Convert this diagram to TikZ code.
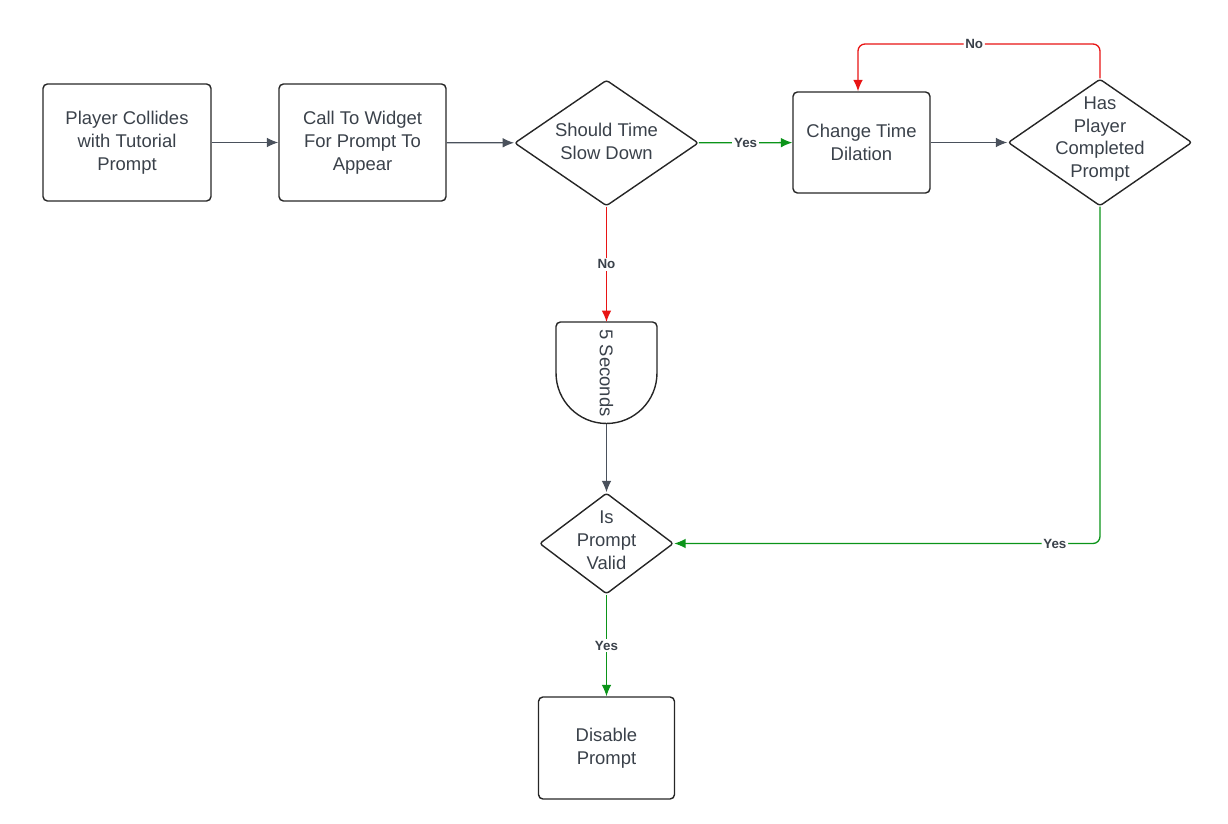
\documentclass[tikz,border=0pt]{standalone}
\usepackage{fontspec}
\setmainfont{Liberation Sans}
\usetikzlibrary{shapes.geometric,arrows.meta}
\definecolor{inkgray}{HTML}{3A414A}
\definecolor{edgegray}{HTML}{4A515C}
\definecolor{flowred}{HTML}{E81414}
\definecolor{flowgreen}{HTML}{0B9419}

\begin{document}
\begin{tikzpicture}[>={Latex[length=6.5pt,width=5.5pt]},line join=bevel,x=0.02cm,y=-0.02cm,line width=0.75pt,
  every node/.style={font=\fontsize{10.5}{13}\selectfont,text=inkgray},
  process/.style={draw=black!85,line width=0.8pt,rounded corners=2.5pt,align=center},
  decision/.style={draw=black!85,line width=0.8pt,diamond,rounded corners=1.5pt,inner sep=0pt},
  lbl/.style={fill=white,inner sep=1pt,font=\bfseries\fontsize{7.6}{8}\selectfont}]
\useasboundingbox (0,0) rectangle (1228,824);
%%
  \node (node_collide) at (127,142.5) [process,minimum width=3.36cm,minimum height=2.34cm] {Player Collides\\with Tutorial\\Prompt};
  \node (node_widget) at (362.5,142.5) [process,minimum width=3.34cm,minimum height=2.34cm] {Call To Widget\\For Prompt To\\Appear};
  \node (node_slow) at (606.5,143) [decision,minimum width=3.68cm,minimum height=2.52cm,label={[align=center,yshift=0.03cm]center:Should Time\\Slow Down}] {};
  \node (node_dilate) at (861.5,142.5) [process,minimum width=2.74cm,minimum height=2.02cm] {Change Time\\Dilation};
  \node (node_done) at (1100,142.5) [decision,minimum width=3.68cm,minimum height=2.54cm,label={[align=center,yshift=0.07cm]center:Has\\Player\\Completed\\Prompt}] {};
  \node (node_wait) at (606.5,373) [minimum width=2.02cm,minimum height=2.04cm,inner sep=0pt,outer sep=0pt] {\rotatebox{-90}{5 Seconds}};
  \node (node_valid) at (606.5,543.5) [decision,minimum width=2.68cm,minimum height=2.02cm,label={[align=center,yshift=0.06cm]center:Is\\Prompt\\Valid}] {};
  \node (node_disable) at (606.5,748) [process,minimum width=2.72cm,minimum height=2.04cm] {Disable\\Prompt};
  \coordinate (turn_no) at (858,44);

  % delay outline
  \draw [draw=black!85,line width=0.8pt] (node_wait.west) -- ([yshift=-2.5pt]node_wait.north west) arc [start angle=180,end angle=90,radius=2.5pt] -- ([xshift=-2.5pt]node_wait.north east) arc [start angle=90,end angle=0,radius=2.5pt] -- (node_wait.east) arc [start angle=0,end angle=-180,radius=1.01cm] -- cycle;

  \draw [edgegray,->] (node_collide) edge (node_widget);
  \draw [edgegray,->] (node_widget) edge (node_slow);
  \draw [flowgreen,->] (node_slow) edge node[lbl] {Yes} (node_dilate);
  \draw [edgegray,->] (node_dilate) edge (node_done);
  \draw [flowred,->] (node_slow) edge node[lbl] {No} (node_wait);
  \draw [edgegray,->] (node_wait) edge (node_valid);
  \draw [flowgreen,->] (node_valid) edge node[lbl] {Yes} (node_disable);
  \draw [flowred,->,rounded corners=4pt] (node_done.north) |- (turn_no) node[lbl,pos=0.76] {No} -- (turn_no |- node_dilate.north);
  \draw [flowgreen,->,rounded corners=4pt] (node_done.south) |- (node_valid.east) node[lbl,pos=0.553] {Yes};

\end{tikzpicture}
\end{document}
